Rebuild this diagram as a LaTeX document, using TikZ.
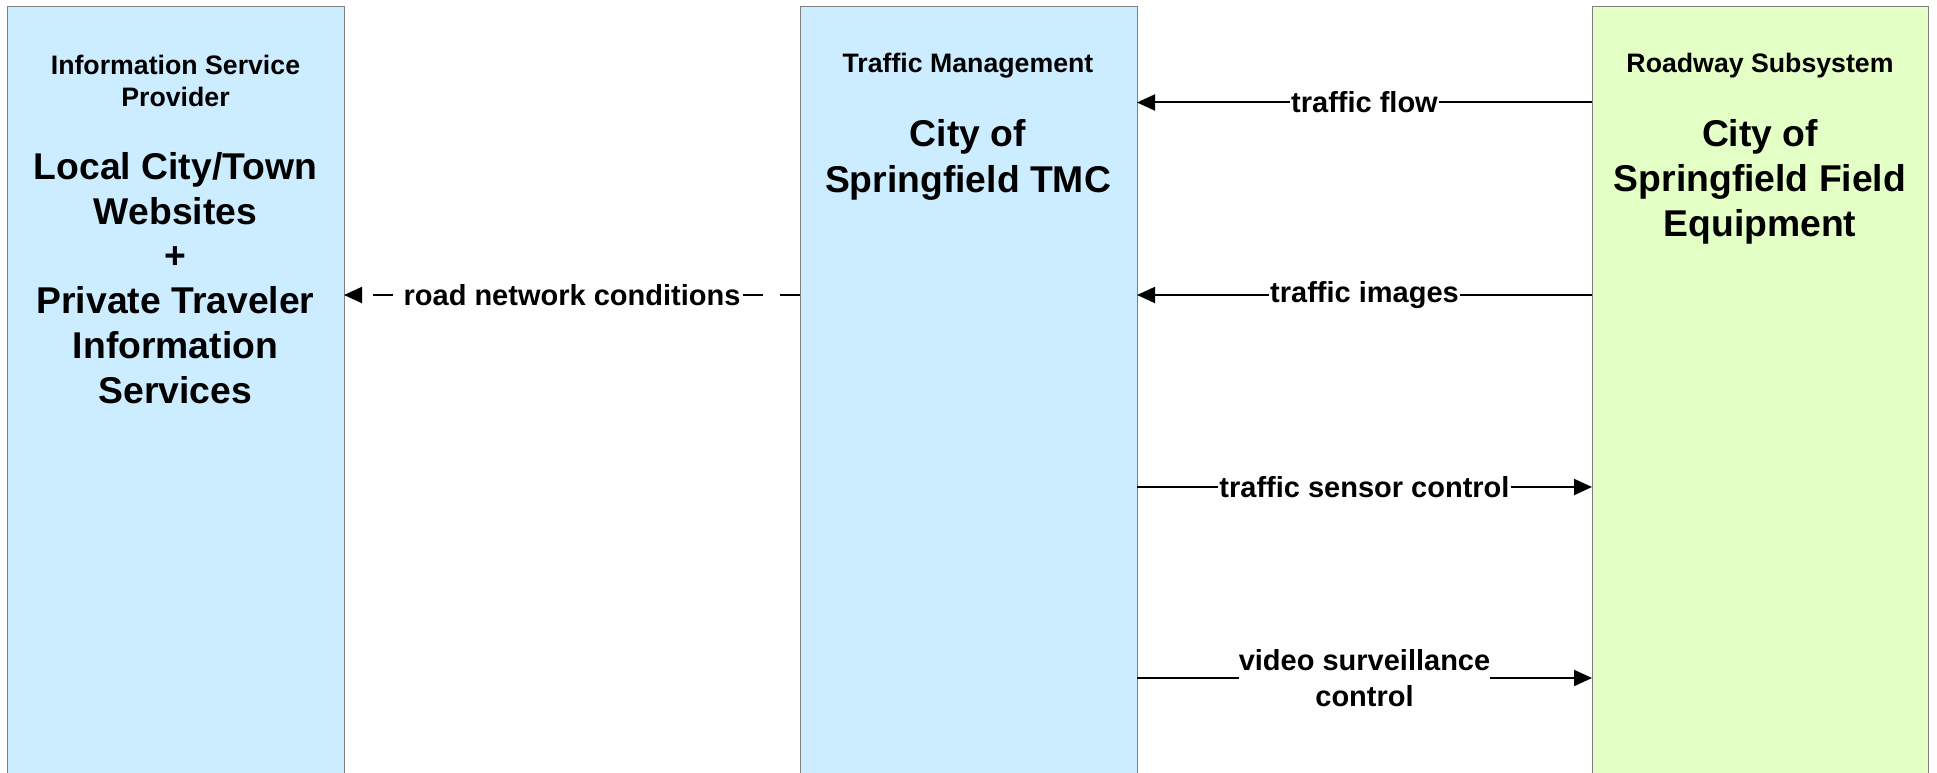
\documentclass[tikz,border=0pt]{standalone}
\usepackage{fontspec}
\setmainfont{Liberation Sans}
\usetikzlibrary{arrows.meta}
\definecolor{bluefill}{HTML}{CCECFF}
\definecolor{greenfill}{HTML}{E3FFC5}
\definecolor{boxline}{HTML}{7F7F7F}
\begin{document}
\begin{tikzpicture}[x=1pt,y=-1pt,
  sysbox/.style={draw=boxline, line width=1pt, minimum width=337pt, minimum height=800pt, anchor=north west, inner sep=0pt, outer sep=0pt},
  titletext/.style={font=\fontsize{26.7}{32}\selectfont\bfseries, align=center},
  bigtext/.style={font=\fontsize{37.3}{45.3}\selectfont\bfseries, align=center},
  flow/.style={line width=2pt, -{Triangle[length=18pt,width=16pt]}},
  lbl/.style={font=\fontsize{29}{36}\selectfont\bfseries, fill=white, inner sep=1pt, align=center}]
\useasboundingbox (0,0) rectangle (1937,773);
\clip (0,0) rectangle (1937,773);
\node[sysbox, fill=bluefill] (isp) at (7,7) {};
\node[sysbox, fill=bluefill] (tm) at (800,7) {};
\node[sysbox, fill=greenfill, minimum width=336pt] (rs) at (1592,7) {};
\node[titletext] (ispt) at (175.5,81) {Information Service\\Provider};
\node[bigtext, font=\fontsize{37.3}{44.8}\selectfont\bfseries] (ispn) at (175.5,278) {Local City/Town\\Websites\\+\\Private Traveler\\Information\\Services};
\node[titletext] (tmt) at (968,66) {Traffic Management};
\node[bigtext] (tmn) at (968,160) {City of\\Springfield TMC};
\node[titletext] (rst) at (1760,66) {Roadway Subsystem};
\node[bigtext] (rsn) at (1760,182) {City of\\Springfield Field\\Equipment};
\coordinate (y1) at (0,102.5);
\coordinate (y2) at (0,295);
\coordinate (y3) at (0,487);
\coordinate (y4) at (0,678);
\draw[flow] (rs.west |- y1) -- node[lbl] (l1) {traffic flow} (tm.east |- y1);
\draw[flow] (rs.west |- y2) -- node[lbl] (l2) {traffic images} (tm.east |- y2);
\draw[flow, dash pattern=on 20pt off 17pt] (tm.west |- y2) -- node[lbl] (l3) {road network conditions} (isp.east |- y2);
\draw[flow] (tm.east |- y3) -- node[lbl] (l4) {traffic sensor control} (rs.west |- y3);
\draw[flow] (tm.east |- y4) -- node[lbl, inner sep=0pt] (l5) {video surveillance\\control} (rs.west |- y4);
\end{tikzpicture}
\end{document}
